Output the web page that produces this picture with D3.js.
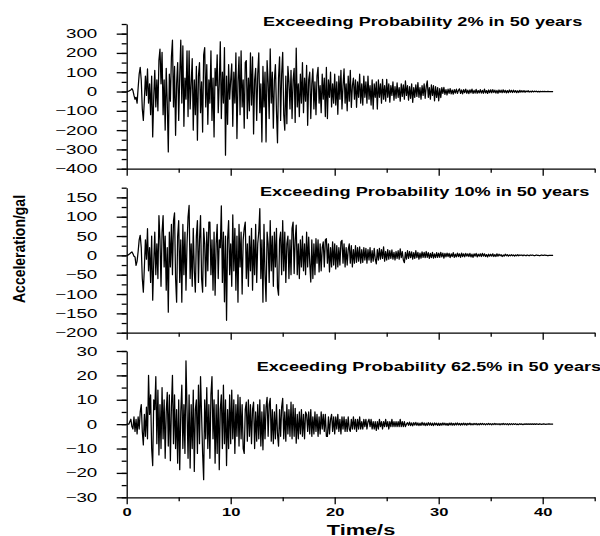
<!DOCTYPE html>
<html>
<head lang="en">
    <meta charset="UTF-8">
    <title>Acceleration time histories</title>
    <script src="https://cdn.jsdelivr.net/npm/d3@7"></script>
    <style>
        body { margin: 0; background: #fff; }
        text { font-family: Arial, "Liberation Sans", sans-serif; fill: #000; }
    </style>
</head>
<body>
    <script>
        // sampling step of the records, seconds
        var dt = 0.1;

        // 2% in 50 years, gal
        var acc2 = [
            0, 0, 2, 5, 8, 15, 5, -20, -40, -30,
            -60, 20, 90, 125, 60, -90, -150, -40, 80, -20,
            117, -60, 40, -120, 80, -235, -30, 110, -80, 60,
            -100, 163, 220, 40, 203, -120, 60, -200, 120, -60,
            -313, 90, -50, 180, 266, -80, 130, -227, 40, 150,
            -150, 80, 266, -60, 237, -180, 70, -40, 211, -130,
            211, -90, 40, 170, -200, 60, -120, 130, -252, 80,
            150, -110, 50, -210, 190, 228, -80, 140, -170, 60,
            -60, 211, -150, 70, -235, 120, 30, 190, -110, 40,
            258, -140, 100, -60, 228, -330, 80, -170, 140, -40,
            60, 143, -180, 100, -60, 200, -244, 50, 180, -120,
            211, -80, 60, -190, 150, 160, -140, 70, -100, 200,
            -70, 180, -220, 60, 120, -150, 90, 200, -110, 40,
            -261, 130, -80, 100, -261, 160, 50, -140, 221, -60,
            100, -190, 60, 140, -100, -266, 70, 180, -150, 90,
            203, -120, -200, 80, -167, 130, 50, -90, 110, -140,
            60, 120, -160, 225, -80, 40, -130, 90, -60, 150,
            -110, 70, -50, 135, -175, 60, 100, -140, 40, 118,
            -90, 50, -120, 80, 125, -60, 30, -110, 90, -40,
            70, -130, 125, -140, 60, -30, 100, -80, 40, -60,
            90, -70, 50, -118, 80, -40, 110, -90, 30, 118,
            -60, 40, -100, 80, -50, 110, -82, 30, 70, -40,
            60, -82, 50, -30, 90, -60, 40, -70, 80, -30,
            50, -60, 80, -40, 30, -70, 60, -91, 40, -30,
            50, -91, 60, -30, 40, -60, 63, -40, 30, -50,
            63, -30, 40, -55, 30, -20, 50, -45, 25, -35,
            45, -30, 20, -50, 40, -25, 35, -40, 55, -20,
            30, -45, 25, -35, 40, -56, 20, -30, 35, -25,
            46, -30, 20, -40, 30, -20, 40, -35, 25, 55,
            -30, 20, -40, 35, -20, 30, -48, 25, -30, 20,
            -48, 15, -31, 20, -10, 21, -15, 10, -18, 12,
            -10, 15, -12, 8, -14, 10, -8, 12, -10, 6,
            14, -10, 8, -12, 10, -6, 12, -9, 7, -11,
            9, -7, 12, -10, 6, -8, 11, -9, 5, -7,
            10, -8, 6, -9, 12, -7, 5, -10, 8, -6,
            9, -7, 10, -5, 7, -8, 6, -9, 8, -5,
            7, -6, 9, -5, 6, -7, 5, -6, 8, -4,
            6, -5, 7, -4, 5, -6, 4, -5, 6, -3,
            4, -3, 5, -4, 3, -2, 4, -3, 2, -3,
            3, -2, 2, -1, 2, -2, 1, -2, 1, -1,
            1, 0, 1, -1, 0, 1, 0, 0, -1, 0,
            0
        ];

        // 10% in 50 years, gal
        var acc10 = [
            0, 0, 2, 4, 7, 9, 4, -2, -4, -26,
            -15, 10, 40, 52, 20, -60, -95, -30, 40, -10,
            69, -40, 20, -70, 50, -116, -20, 60, -50, 30,
            -60, 103, 40, -80, 60, 103, -30, 50, -90, 20,
            -147, 60, -30, 80, -50, 90, 110, -60, -121, 50,
            90, -70, 40, -121, 80, -50, 60, -90, 30, 100,
            129, -60, 30, -80, 70, -40, -95, 50, 90, -70,
            40, 103, -60, -95, 70, 30, -80, 60, -40, 86,
            86, -50, 40, -90, 60, -103, 30, 80, -60, 40,
            20, 128, -70, 60, -120, 50, -168, 40, 90, -50,
            30, -80, 105, -40, 70, -90, 50, -121, 80, -30,
            60, -100, 40, 70, 86, -60, 30, -80, 50, -40,
            70, -90, 40, -50, 80, -70, 30, 60, 121, -60,
            40, -121, 80, -50, -119, 60, 30, -70, 90, -40,
            50, -80, 60, -30, 70, -82, -103, 40, 60, -50,
            90, -40, 60, -70, 30, 50, -60, 40, -50, 70,
            86, -47, 40, 78, -50, 30, -60, 40, -30, 50,
            -40, 30, -50, 60, -30, 47, -20, -69, 40, -60,
            30, -50, 43, -20, 40, -43, 30, -40, 20, 35,
            -30, 40, 43, -20, 30, -43, 20, -30, 35, -25,
            30, -35, 25, -30, 20, -25, 35, 39, -20, 30,
            -30, 20, -25, 15, 30, -20, 25, -30, 15, -20,
            25, -18, 20, -15, 22, -20, 15, -18, 20, -12,
            18, -20, 15, -12, 20, -18, 12, -15, 18, -10,
            -22, 15, -12, 18, -10, 15, -8, 22, -15, 10,
            -12, 15, -10, 12, -8, 14, -10, 8, -12, 10,
            -8, 12, -10, 17, -6, 10, -12, -19, 8, -10,
            12, -8, 10, -6, 9, -10, 7, -8, 12, -6,
            8, -10, 6, -7, 9, -5, 8, -6, 10, -5,
            7, -8, 5, -6, 8, -7, 4, -6, 7, -5,
            6, -5, 8, -4, 6, -7, 5, -4, 6, -3,
            5, -6, 4, -3, 7, -5, 3, -4, 6, -3,
            4, -5, 6, -3, 4, -4, 5, -2, 4, -3,
            5, -4, 3, -5, 4, -2, 5, -4, 3, -2,
            4, -3, 5, -2, 4, -3, 2, -4, 3, -2,
            3, -2, 4, -3, 2, -3, 4, -2, 3, -1,
            2, -3, 1, -2, 3, -1, 2, -2, 1, -1,
            2, -1, 1, -2, 1, -1, 2, -1, 1, 0,
            1, -1, 1, 0, -1, 1, 0, -1, 1, 0,
            1, 0, -1, 0, 1, 0, 0, -1, 0, 1,
            0, 0, 1, 0, 0, -1, 0, 0, 0, 0,
            0
        ];

        // 62.5% in 50 years, gal
        var acc62 = [
            0, 0, 0, 1, 2, -1, -2, 3, -3, 2,
            -4, 3, -2, 5, 8, -3, -8.5, 4, -5, 7,
            -6, 20, 4, 12, -10, -17, 10, 6, 19.5, -8,
            14, -12.6, 8, -10, 15, -6, 10, -14, 5, 13,
            -9, 12, -15, 7, 20, -8, 12, -10, 6, -16,
            10, -18.7, 5, 16, -10, 8, -12, 26, 6, -14,
            12, -18, 8, -10, 14, -19.4, 6, 10, -12, 16,
            -8, 19.5, 4, -12, -22.8, 10, -6, 15, -10, 8,
            -14, 12, 19.5, -6, 10, -16, 8, -12, 14, -18.7,
            6, 12, -10, 16, -8, 10, -17, 6, -10, 12,
            -8, 14, -6, 10, -12, 8, -5, 12, -9, 11,
            -6, 8, -10, -12, 6, 9, -7, 10, -5, 8,
            -8, 6, 9, -10, 5, -7, 8, -6, 10, -9,
            5, -10.5, 8, -6, 7, 11, -5, 8, 10.6, -7,
            6, -8, 5, -6, 8, -4, -9, 6, -5, 7,
            10.6, -6, 5, -7, 8, -4, 6, -5, 9, -6,
            8, -5, 6.5, -7.8, 4, -6, 5, -4, 6, -5,
            4, -6, 5, 4, -3, 5, -4, 6, -5, 3,
            -4, 5, -3, 4, -5, 3, -4, 5, -2, 4,
            -3, 4, -5, -5, 3, -4, 2, 4, -3, 3,
            -4, 3, -2, 4, -3, 2, -4, 3, -2, 3,
            -3, 2, -3, 3, -2, -3, 2, -2, 3, -2,
            2, -3, 2, -2, 3, -2, 1, -2, 2, -1,
            2, -2, 1, 2, -1, 2, -2, 1, -2, 1,
            -2.6, 1, -2, 2, -1, 1, -2, 1, -1, 2,
            -1, 1, -2, 1, -1, 2, -1, 1, -1, 1,
            -1, 1, -1, 2, -1, 1, -1, 1, -1, 0,
            0.6, -0.5, 0.8, -0.6, 0.5, -0.7, 0.6, -0.4, 0.7, -0.5,
            0.5, -0.6, 0.4, -0.5, 0.7, -0.4, 0.5, -0.6, 0.4, -0.5,
            0.6, -0.4, 0.5, -0.5, 0.4, -0.6, 0.5, -0.3, 0.4, -0.5,
            0.4, -0.5, 0.3, -0.4, 0.5, -0.3, 0.4, -0.4, 0.3, -0.5,
            0.4, -0.3, 0.5, -0.4, 0.3, -0.4, 0.4, -0.3, 0.5, -0.3,
            0.3, -0.4, 0.3, -0.3, 0.4, -0.3, 0.3, -0.4, 0.3, -0.2,
            0.4, -0.3, 0.2, -0.3, 0.3, -0.2, 0.3, -0.3, 0.2, -0.3,
            0.3, -0.2, 0.3, -0.2, 0.2, -0.3, 0.2, -0.2, 0.3, -0.2,
            0.2, -0.3, 0.2, -0.2, 0.3, -0.2, 0.2, -0.2, 0.2, -0.3,
            0.2, -0.2, 0.3, -0.2, 0.2, -0.2, 0.2, -0.3, 0.2, -0.2,
            0.2, -0.2, 0.2, -0.1, 0.2, -0.2, 0.1, -0.2, 0.2, -0.1,
            0.1, -0.2, 0.1, -0.1, 0.2, -0.1, 0.1, -0.1, 0.1, -0.1,
            0.1, -0.1, 0.1, -0.1, 0.1, 0, -0.1, 0.1, 0, -0.1,
            0, 0.1, 0, -0.1, 0, 0, 0.1, 0, 0, 0,
            0
        ];

        var titles = [
            "Exceeding Probability 2% in 50 years",
            "Exceeding Probability 10% in 50 years",
            "Exceeding Probability 62.5% in 50 years"
        ];
        var yTicks2 = [300, 200, 100, 0, -100, -200, -300, -400];
        var yTicks10 = [150, 100, 50, 0, -50, -100, -150, -200];
        var yTicks62 = [30, 20, 10, 0, -10, -20, -30];
        var xTicks = [0, 10, 20, 30, 40];
        var xMinorTicks = [5, 15, 25, 35, 45];

        var w = 600;
        var h = 536;
        var stretchX = 1.5;

        var svg = d3.select("body")
                .append("svg")
                .attr("width", w)
                .attr("height", h);

        var x = d3.scaleLinear().domain([0, 45]).range([126.7, 594.7]);

        var panels = [
            { data: acc2, title: titles[0], ticks: yTicks2, step: 50, domain: [-400, 350],
              top: 24, bottom: 168.7, tx: 263, ty: 26 },
            { data: acc10, title: titles[1], ticks: yTicks10, step: 25, domain: [-200, 175],
              top: 187.7, bottom: 332.7, tx: 260, ty: 196 },
            { data: acc62, title: titles[2], ticks: yTicks62, step: 5, domain: [-30, 30],
              top: 351, bottom: 497.3, tx: 256.7, ty: 370.7 }
        ];

        // widen text like the original figure
        function stretch(sel, k) {
            sel.each(function () {
                var len = this.getComputedTextLength();
                d3.select(this)
                        .attr("textLength", len * k)
                        .attr("lengthAdjust", "spacingAndGlyphs");
            });
        }

        function styleAxis(g) {
            g.selectAll("path, line").attr("stroke", "#000").attr("stroke-width", 1.3);
        }

        panels.forEach(function (p, k) {
            var y = d3.scaleLinear().domain(p.domain).range([p.bottom, p.top]);
            var g = svg.append("g");

            var line = d3.line()
                    .x(function (d, i) { return x(i * dt); })
                    .y(function (d) { return y(d); });

            g.append("path")
                    .datum(p.data)
                    .attr("fill", "none")
                    .attr("stroke", "#000")
                    .attr("stroke-width", 1.25)
                    .attr("stroke-linejoin", "round")
                    .attr("d", line);

            // y axis, minor then major ticks
            g.append("g")
                    .attr("transform", "translate(" + x(0) + ",0)")
                    .call(d3.axisLeft(y)
                            .tickValues(d3.range(p.domain[0], p.domain[1] + 0.001, p.step))
                            .tickSize(5).tickSizeOuter(0).tickFormat(""))
                    .call(styleAxis);

            var ya = g.append("g")
                    .attr("transform", "translate(" + x(0) + ",0)")
                    .call(d3.axisLeft(y)
                            .tickValues(p.ticks)
                            .tickSize(10).tickSizeOuter(0).tickPadding(19.4))
                    .call(styleAxis);
            ya.select(".domain").remove();
            ya.selectAll("text")
                    .attr("font-size", 12.5)
                    .attr("font-family", null)
                    .call(stretch, stretchX);

            // x axis at panel bottom
            g.append("g")
                    .attr("transform", "translate(0," + p.bottom + ")")
                    .call(d3.axisBottom(x).tickValues(xMinorTicks)
                            .tickSize(4).tickSizeOuter(0).tickFormat(""))
                    .call(styleAxis);

            var xa = g.append("g")
                    .attr("transform", "translate(0," + p.bottom + ")")
                    .call(d3.axisBottom(x).tickValues(xTicks)
                            .tickSize(7).tickSizeOuter(0))
                    .call(styleAxis);
            xa.select(".domain").remove();
            if (k === 2) {
                xa.selectAll("text")
                        .attr("y", 18.7)
                        .attr("dy", null)
                        .attr("font-size", 11)
                        .attr("font-weight", "bold")
                        .attr("font-family", null)
                        .call(stretch, stretchX);
            } else {
                xa.selectAll("text").remove();
            }

            g.append("text")
                    .attr("x", p.tx)
                    .attr("y", p.ty)
                    .attr("font-size", 12)
                    .attr("font-weight", "bold")
                    .text(p.title)
                    .call(stretch, 1.51);
        });

        svg.append("text")
                .attr("text-anchor", "middle")
                .attr("x", 361)
                .attr("y", 534.5)
                .attr("font-size", 14.5)
                .attr("font-weight", "bold")
                .text("Time/s")
                .call(stretch, stretchX);

        svg.append("text")
                .attr("text-anchor", "middle")
                .attr("transform", "translate(25,249) rotate(-90)")
                .attr("font-size", 17)
                .attr("font-weight", "bold")
                .attr("textLength", 108)
                .attr("lengthAdjust", "spacingAndGlyphs")
                .text("Acceleration/gal");
    </script>
</body>
</html>
